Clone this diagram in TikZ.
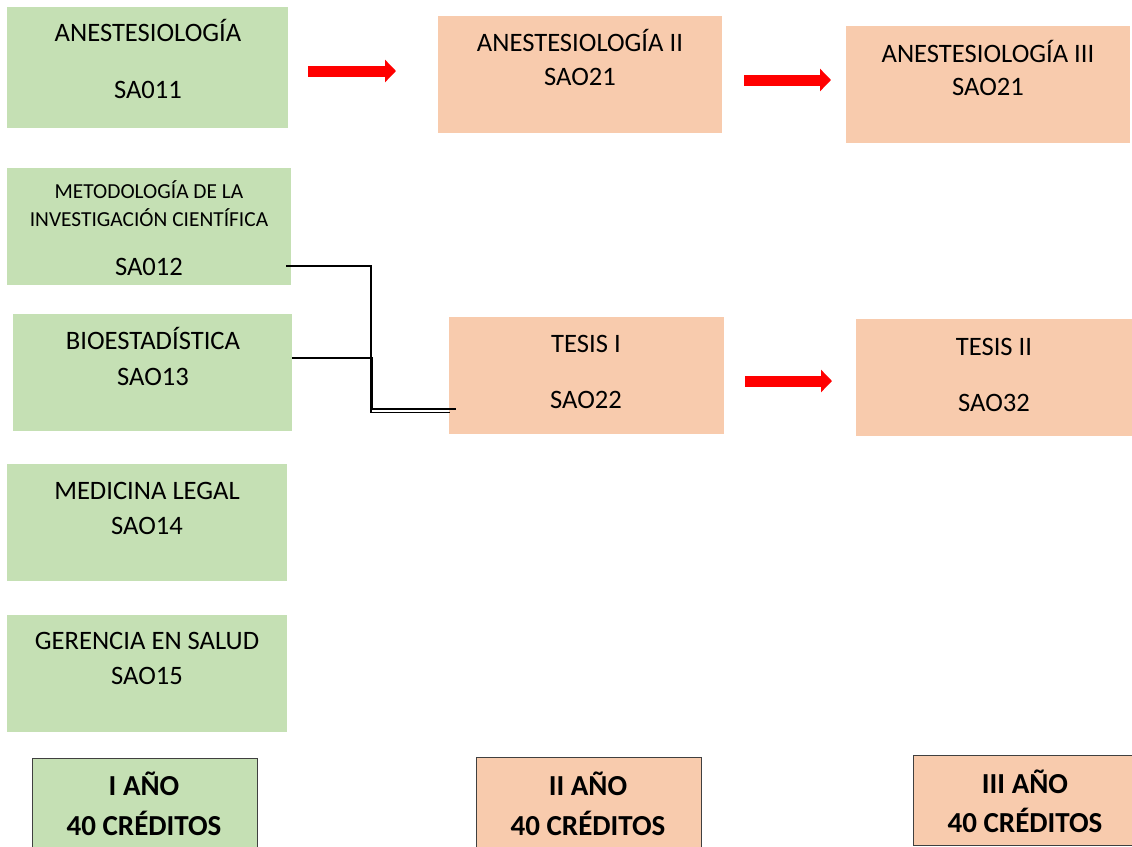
\documentclass[tikz,border=0pt]{standalone}
\usepackage{fontspec}
\setmainfont{Carlito}
\usetikzlibrary{arrows.meta}
\definecolor{boxgreen}{HTML}{C5E0B4}
\definecolor{boxorange}{HTML}{F8CBAD}
\definecolor{arrowred}{HTML}{FF0000}
\begin{document}
\begin{tikzpicture}[x=1pt,y=-1pt,
  gbox/.style={fill=boxgreen,draw=none,anchor=north west,inner sep=0pt},
  obox/.style={fill=boxorange,draw=none,anchor=north west,inner sep=0pt},
  ybox/.style={draw=black!75,line width=1.2pt,anchor=north west,inner sep=0pt},
  lbl/.style={font=\fontsize{26.6}{30}\selectfont,inner sep=0pt,anchor=base,yshift=-8.6pt},
  slbl/.style={font=\fontsize{21.4}{24}\selectfont,inner sep=0pt,anchor=base,yshift=-6.9pt},
  blbl/.style={font=\fontsize{29}{32}\selectfont\bfseries,inner sep=0pt,anchor=base,yshift=-9.3pt},
  redarrow/.style={draw=arrowred,line width=11pt,-{Triangle[length=11pt,width=22pt]}},
  link/.style={draw=black,line width=1.3pt}]
\useasboundingbox (0,0) rectangle (1132,846);
% column I
\node[gbox,minimum width=281pt,minimum height=121pt] (a1) at (7,7) {};
\node[lbl] (a1t) at (148,33) {ANESTESIOLOGÍA};
\node[lbl] (a1c) at (148,90) {SA011};
\node[gbox,minimum width=284pt,minimum height=117pt] (m1) at (7,168) {};
\node[slbl] (m1t) at (149,192) {METODOLOGÍA DE LA};
\node[slbl] (m1u) at (149,220) {INVESTIGACIÓN CIENTÍFICA};
\node[lbl] (m1c) at (149,267) {SA012};
\node[gbox,minimum width=279pt,minimum height=117pt] (b1) at (13,314) {};
\node[lbl] (b1t) at (153,341) {BIOESTADÍSTICA};
\node[lbl] (b1c) at (153,377) {SAO13};
\node[gbox,minimum width=280pt,minimum height=117pt] (l1) at (7,464) {};
\node[lbl] (l1t) at (147,491) {MEDICINA LEGAL};
\node[lbl] (l1c) at (147,526) {SAO14};
\node[gbox,minimum width=280pt,minimum height=117pt] (g1) at (7,615) {};
\node[lbl] (g1t) at (147,641) {GERENCIA EN SALUD};
\node[lbl] (g1c) at (147,676) {SAO15};
% column II
\node[obox,minimum width=284pt,minimum height=117pt] (a2) at (438,16) {};
\node[lbl] (a2t) at (580,43) {ANESTESIOLOGÍA II};
\node[lbl] (a2c) at (580,77) {SAO21};
\node[obox,minimum width=275pt,minimum height=117pt] (t2) at (449,317) {};
\node[lbl] (t2t) at (586,344) {TESIS I};
\node[lbl] (t2c) at (586,400) {SAO22};
% column III
\node[obox,minimum width=284pt,minimum height=117pt] (a3) at (846,26) {};
\node[lbl] (a3t) at (988,54) {ANESTESIOLOGÍA III};
\node[lbl] (a3c) at (988,87) {SAO21};
\node[obox,minimum width=276pt,minimum height=117pt] (t3) at (856,319) {};
\node[lbl] (t3t) at (994,347) {TESIS II};
\node[lbl] (t3c) at (994,403) {SAO32};
% year boxes
\node[ybox,fill=boxgreen,minimum width=225pt,minimum height=100pt] (y1) at (32,758) {};
\node[blbl] (y1t) at (144,786) {I AÑO};
\node[blbl] (y1c) at (144,826) {40 CRÉDITOS};
\node[ybox,fill=boxorange,minimum width=225pt,minimum height=100pt] (y2) at (476,757) {};
\node[blbl] (y2t) at (588,786) {II AÑO};
\node[blbl] (y2c) at (588,826) {40 CRÉDITOS};
\node[ybox,fill=boxorange,minimum width=240pt,minimum height=90pt] (y3) at (913,755) {};
\node[blbl] (y3t) at (1025,784) {III AÑO};
\node[blbl] (y3c) at (1025,823) {40 CRÉDITOS};
% red arrows
\coordinate (r1s) at (308,71); \coordinate (r1e) at (396,71);
\coordinate (r2s) at (744,80); \coordinate (r2e) at (831,80);
\coordinate (r3s) at (745,381); \coordinate (r3e) at (832,381);
\draw[redarrow] (r1s) -- (r1e);
\draw[redarrow] (r2s) -- (r2e);
\draw[redarrow] (r3s) -- (r3e);
% links to TESIS I
\coordinate (ms) at (286,266);
\coordinate (bs) at (292,358);
\coordinate (te1) at (450,412.5);
\coordinate (te2) at (456,409);
\draw[link] (ms) -| (371,412.5) -- (te1);
\draw[link] (bs) -| (372.5,409) -- (te2);
\end{tikzpicture}
\end{document}
